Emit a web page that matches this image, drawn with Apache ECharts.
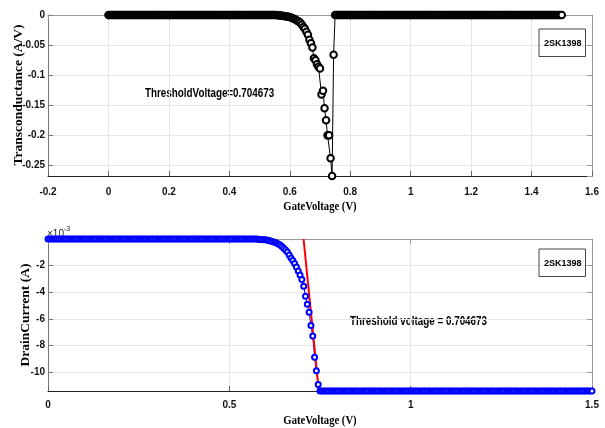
<!DOCTYPE html>
<html>
<head>
<meta charset="utf-8">
<script src="https://cdn.jsdelivr.net/npm/echarts@6/dist/echarts.min.js"></script>
<style>
  html, body { margin: 0; padding: 0; background: #fff; }
  #main { width: 605px; height: 428px; }
</style>
</head>
<body>
<div id="main"></div>
<script>
// gate voltage sweep (V), shared by both plots
const gateVoltage = [
    0, 0.005, 0.01, 0.015, 0.02, 0.025, 0.03, 0.035, 0.04, 0.045,
    0.05, 0.055, 0.06, 0.065, 0.07, 0.075, 0.08, 0.085, 0.09, 0.095,
    0.1, 0.105, 0.11, 0.115, 0.12, 0.125, 0.13, 0.135, 0.14, 0.145,
    0.15, 0.155, 0.16, 0.165, 0.17, 0.175, 0.18, 0.185, 0.19, 0.195,
    0.2, 0.205, 0.21, 0.215, 0.22, 0.225, 0.23, 0.235, 0.24, 0.245,
    0.25, 0.255, 0.26, 0.265, 0.27, 0.275, 0.28, 0.285, 0.29, 0.295,
    0.3, 0.305, 0.31, 0.315, 0.32, 0.325, 0.33, 0.335, 0.34, 0.345,
    0.35, 0.355, 0.36, 0.365, 0.37, 0.375, 0.38, 0.385, 0.39, 0.395,
    0.4, 0.405, 0.41, 0.415, 0.42, 0.425, 0.43, 0.435, 0.44, 0.445,
    0.45, 0.455, 0.46, 0.465, 0.47, 0.475, 0.48, 0.485, 0.49, 0.495,
    0.5, 0.505, 0.51, 0.515, 0.52, 0.525, 0.53, 0.535, 0.54, 0.545,
    0.55, 0.555, 0.56, 0.565, 0.57, 0.575, 0.58, 0.585, 0.59, 0.595,
    0.6, 0.605, 0.61, 0.615, 0.62, 0.625, 0.63, 0.635, 0.64, 0.645,
    0.65, 0.655, 0.66, 0.665, 0.67, 0.675, 0.68, 0.685, 0.69, 0.695,
    0.7, 0.705, 0.71, 0.715, 0.72, 0.725, 0.73, 0.735, 0.74, 0.745,
    0.75, 0.755, 0.76, 0.765, 0.77, 0.775, 0.78, 0.785, 0.79, 0.795,
    0.8, 0.805, 0.81, 0.815, 0.82, 0.825, 0.83, 0.835, 0.84, 0.845,
    0.85, 0.855, 0.86, 0.865, 0.87, 0.875, 0.88, 0.885, 0.89, 0.895,
    0.9, 0.905, 0.91, 0.915, 0.92, 0.925, 0.93, 0.935, 0.94, 0.945,
    0.95, 0.955, 0.96, 0.965, 0.97, 0.975, 0.98, 0.985, 0.99, 0.995,
    1, 1.005, 1.01, 1.015, 1.02, 1.025, 1.03, 1.035, 1.04, 1.045,
    1.05, 1.055, 1.06, 1.065, 1.07, 1.075, 1.08, 1.085, 1.09, 1.095,
    1.1, 1.105, 1.11, 1.115, 1.12, 1.125, 1.13, 1.135, 1.14, 1.145,
    1.15, 1.155, 1.16, 1.165, 1.17, 1.175, 1.18, 1.185, 1.19, 1.195,
    1.2, 1.205, 1.21, 1.215, 1.22, 1.225, 1.23, 1.235, 1.24, 1.245,
    1.25, 1.255, 1.26, 1.265, 1.27, 1.275, 1.28, 1.285, 1.29, 1.295,
    1.3, 1.305, 1.31, 1.315, 1.32, 1.325, 1.33, 1.335, 1.34, 1.345,
    1.35, 1.355, 1.36, 1.365, 1.37, 1.375, 1.38, 1.385, 1.39, 1.395,
    1.4, 1.405, 1.41, 1.415, 1.42, 1.425, 1.43, 1.435, 1.44, 1.445,
    1.45, 1.455, 1.46, 1.465, 1.47, 1.475, 1.48, 1.485, 1.49, 1.495,
    1.5
];

// top plot: transconductance (A/V)
const transconductance = [
    0, 0, 0, 0, 0, 0, 0, 0, 0, 0,
    0, 0, 0, 0, 0, 0, 0, 0, 0, 0,
    0, 0, 0, 0, 0, 0, 0, 0, 0, 0,
    0, 0, 0, 0, 0, 0, 0, 0, 0, 0,
    0, 0, 0, 0, 0, 0, 0, 0, 0, 0,
    0, 0, 0, 0, 0, 0, 0, 0, 0, 0,
    0, 0, 0, 0, 0, 0, 0, 0, 0, 0,
    0, 0, 0, 0, 0, 0, 0, 0, 0, 0,
    0, 0, 0, 0, 0, 0, 0, 0, 0, 0,
    0, 0, 0, 0, 0, 0, 0, 0, 0, 0,
    0, 0, 0, 0, 0, 0, 0, 0, 0, 0,
    0, 0, -0.0005, -0.0008, -0.001, -0.0013, -0.0016, -0.002, -0.0025, -0.003,
    -0.0035, -0.0045, -0.0055, -0.0065, -0.008, -0.0095, -0.011, -0.013, -0.016, -0.02,
    -0.023, -0.028, -0.033, -0.041, -0.047, -0.054, -0.072, -0.075, -0.082, -0.086,
    -0.089, -0.132, -0.126, -0.155, -0.175, -0.2, -0.2, -0.238, -0.2675, -0.066,
    0, 0, 0, 0, 0, 0, 0, 0, 0, 0,
    0, 0, 0, 0, 0, 0, 0, 0, 0, 0,
    0, 0, 0, 0, 0, 0, 0, 0, 0, 0,
    0, 0, 0, 0, 0, 0, 0, 0, 0, 0,
    0, 0, 0, 0, 0, 0, 0, 0, 0, 0,
    0, 0, 0, 0, 0, 0, 0, 0, 0, 0,
    0, 0, 0, 0, 0, 0, 0, 0, 0, 0,
    0, 0, 0, 0, 0, 0, 0, 0, 0, 0,
    0, 0, 0, 0, 0, 0, 0, 0, 0, 0,
    0, 0, 0, 0, 0, 0, 0, 0, 0, 0,
    0, 0, 0, 0, 0, 0, 0, 0, 0, 0,
    0, 0, 0, 0, 0, 0, 0, 0, 0, 0,
    0, 0, 0, 0, 0, 0, 0, 0, 0, 0,
    0, 0, 0, 0, 0, 0, 0, 0, 0, 0,
    0, 0, 0, 0, 0, 0, 0, 0, 0, 0,
    0
];

// bottom plot: drain current (x10^-3 A)
const drainCurrent = [
    0, 0, 0, 0, 0, 0, 0, 0, 0, 0,
    0, 0, 0, 0, 0, 0, 0, 0, 0, 0,
    0, 0, 0, 0, 0, 0, 0, 0, 0, 0,
    0, 0, 0, 0, 0, 0, 0, 0, 0, 0,
    0, 0, 0, 0, 0, 0, 0, 0, 0, 0,
    0, 0, 0, 0, 0, 0, 0, 0, 0, 0,
    0, 0, 0, 0, 0, 0, 0, 0, 0, 0,
    0, 0, 0, 0, 0, 0, 0, 0, 0, 0,
    0, 0, 0, 0, 0, 0, 0, 0, 0, 0,
    0, 0, 0, 0, 0, 0, 0, 0, 0, 0,
    0, 0, 0, 0, 0, 0, 0, 0, 0, 0,
    0, 0, 0, 0, 0, 0, -0.02, -0.03, -0.04, -0.05,
    -0.06, -0.09, -0.12, -0.16, -0.2, -0.25, -0.3, -0.37, -0.45, -0.56,
    -0.7, -0.82, -0.98, -1.2, -1.42, -1.62, -1.85, -2.1, -2.4, -2.7,
    -3.05, -3.55, -4.3, -4.9, -5.5, -6.5, -7.3, -8.9, -9.9, -10.95,
    -11.43, -11.43, -11.43, -11.43, -11.43, -11.43, -11.43, -11.43, -11.43, -11.43,
    -11.43, -11.43, -11.43, -11.43, -11.43, -11.43, -11.43, -11.43, -11.43, -11.43,
    -11.43, -11.43, -11.43, -11.43, -11.43, -11.43, -11.43, -11.43, -11.43, -11.43,
    -11.43, -11.43, -11.43, -11.43, -11.43, -11.43, -11.43, -11.43, -11.43, -11.43,
    -11.43, -11.43, -11.43, -11.43, -11.43, -11.43, -11.43, -11.43, -11.43, -11.43,
    -11.43, -11.43, -11.43, -11.43, -11.43, -11.43, -11.43, -11.43, -11.43, -11.43,
    -11.43, -11.43, -11.43, -11.43, -11.43, -11.43, -11.43, -11.43, -11.43, -11.43,
    -11.43, -11.43, -11.43, -11.43, -11.43, -11.43, -11.43, -11.43, -11.43, -11.43,
    -11.43, -11.43, -11.43, -11.43, -11.43, -11.43, -11.43, -11.43, -11.43, -11.43,
    -11.43, -11.43, -11.43, -11.43, -11.43, -11.43, -11.43, -11.43, -11.43, -11.43,
    -11.43, -11.43, -11.43, -11.43, -11.43, -11.43, -11.43, -11.43, -11.43, -11.43,
    -11.43, -11.43, -11.43, -11.43, -11.43, -11.43, -11.43, -11.43, -11.43, -11.43,
    -11.43, -11.43, -11.43, -11.43, -11.43, -11.43, -11.43, -11.43, -11.43, -11.43,
    -11.43, -11.43, -11.43, -11.43, -11.43, -11.43, -11.43, -11.43, -11.43, -11.43,
    -11.43, -11.43, -11.43, -11.43, -11.43, -11.43, -11.43, -11.43, -11.43, -11.43,
    -11.43
];

// tangent line for threshold voltage
const tangentX = [0.704673, 0.7465];
const tangentY = [0, -11.35];

const deviceName = '2SK1398';
const thresholdTop = 'ThresholdVoltage=0.704673';
const thresholdBottom = 'Threshold voltage = 0.704673';
const xTitle = 'GateVoltage (V)';
const yTitleTop = 'Transconductance (A/V)';
const yTitleBottom = 'DrainCurrent (A)';

const tickFont = '"Liberation Sans Narrow", "Liberation Sans", Arial, sans-serif';
const titleFont = '"Liberation Serif", "DejaVu Serif", serif';

function pairs(xs, ys) {
    return xs.map(function (x, i) { return [x, ys[i]]; });
}

function mainX(gridIndex, min, max, interval, margin) {
    return {
        type: 'value', gridIndex: gridIndex, position: 'bottom',
        min: min, max: max, interval: interval,
        axisLine: { onZero: false, lineStyle: { color: '#222', width: 1 } },
        axisTick: { inside: true, length: 5, lineStyle: { color: '#666' } },
        axisLabel: { margin: margin, fontFamily: tickFont, fontWeight: 'bold', fontSize: 10, color: '#111' },
        splitLine: { show: true, lineStyle: { color: '#e6e6e6' } }
    };
}

function boxX(gridIndex, min, max, interval) {
    return {
        type: 'value', gridIndex: gridIndex, position: 'top',
        min: min, max: max, interval: interval,
        axisLine: { onZero: false, lineStyle: { color: '#999' } },
        axisTick: { inside: true, length: 5, lineStyle: { color: '#999' } },
        axisLabel: { show: false },
        splitLine: { show: false }
    };
}

function mainY(gridIndex, min, max) {
    return {
        type: 'value', gridIndex: gridIndex, position: 'left',
        min: min, max: max, splitNumber: 6,
        axisLine: { onZero: false, lineStyle: { color: '#777' } },
        axisTick: { inside: true, length: 5, lineStyle: { color: '#777' } },
        axisLabel: { margin: 3, showMinLabel: false, showMaxLabel: gridIndex === 0,
            fontFamily: tickFont, fontWeight: 'bold', fontSize: 10, color: '#111' },
        splitLine: { show: true, lineStyle: { color: '#e6e6e6' } }
    };
}

function boxY(gridIndex, min, max) {
    return {
        type: 'value', gridIndex: gridIndex, position: 'right',
        min: min, max: max, splitNumber: 6,
        axisLine: { onZero: false, lineStyle: { color: '#999' } },
        axisTick: { inside: true, length: 5, lineStyle: { color: '#999' } },
        axisLabel: { show: false },
        splitLine: { show: false }
    };
}

function legendBox(top) {
    return {
        data: [deviceName], left: 539, top: top, icon: 'none',
        itemWidth: 0, itemGap: 0, selectedMode: false,
        borderColor: '#444', borderWidth: 1, padding: [8, 4, 8, 0],
        textStyle: { fontFamily: tickFont, fontWeight: 'bold', fontSize: 9, color: '#000' }
    };
}

// narrow text, squeezed horizontally like the source figure
function label(text, x, y, size, font, align) {
    return {
        type: 'text', x: x, y: y, scaleX: 0.82,
        style: { text: text, fontFamily: font, fontWeight: 'bold', fontSize: size, fill: '#000',
            align: align, verticalAlign: 'middle' }
    };
}

let myChart = echarts.init(document.getElementById('main'));

let option = {
    animation: false,
    backgroundColor: '#fff',
    grid: [
        { left: 48, right: 13, top: 15, height: 161 },
        { left: 48, right: 13, top: 239, height: 152 }
    ],
    xAxis: [
        mainX(0, -0.2, 1.6, 0.2, 11),
        boxX(0, -0.2, 1.6, 0.2),
        mainX(1, 0, 1.5, 0.5, 9),
        boxX(1, 0, 1.5, 0.5)
    ],
    yAxis: [
        mainY(0, -0.2675, 0),
        boxY(0, -0.2675, 0),
        mainY(1, -11.43, 0),
        boxY(1, -11.43, 0)
    ],
    legend: [legendBox(29), legendBox(249)],
    series: [
        {
            name: deviceName, type: 'line', xAxisIndex: 0, yAxisIndex: 0,
            data: pairs(gateVoltage, transconductance),
            symbol: 'emptyCircle', symbolSize: 6.5, showSymbol: true, showAllSymbol: true,
            lineStyle: { color: '#000', width: 1 },
            itemStyle: { color: '#000', borderColor: '#000', borderWidth: 1.3 }
        },
        {
            name: deviceName, type: 'line', xAxisIndex: 2, yAxisIndex: 2,
            data: pairs(gateVoltage, drainCurrent),
            symbol: 'emptyCircle', symbolSize: 5, showSymbol: true, showAllSymbol: true,
            lineStyle: { color: '#0000ff', width: 1 },
            itemStyle: { color: '#0000ff', borderColor: '#2a2aff', borderWidth: 1 }
        },
        {
            name: 'tangent', type: 'line', xAxisIndex: 2, yAxisIndex: 2,
            data: pairs(tangentX, tangentY),
            symbol: 'none', lineStyle: { color: '#ff0000', width: 2 }, z: 3
        }
    ],
    graphic: [
        label(thresholdTop, 145, 94, 12, tickFont, 'left'),
        label(thresholdBottom, 350, 322, 12, tickFont, 'left'),
        label(xTitle, 320, 207, 13, titleFont, 'center'),
        label(xTitle, 320, 421, 13, titleFont, 'center'),
        {
            type: 'text', x: 19, y: 95, rotation: Math.PI / 2,
            style: { text: yTitleTop, fontFamily: titleFont, fontWeight: 'bold', fontSize: 13.5, fill: '#000',
                align: 'center', verticalAlign: 'middle' }
        },
        {
            type: 'text', x: 26, y: 315, rotation: Math.PI / 2,
            style: { text: yTitleBottom, fontFamily: titleFont, fontWeight: 'bold', fontSize: 13.5, fill: '#000',
                align: 'center', verticalAlign: 'middle' }
        },
        {
            type: 'text', x: 47, y: 226,
            style: {
                text: '{a|\u00d710}{b|-3}',
                rich: {
                    a: { fontFamily: tickFont, fontSize: 10, fill: '#222', verticalAlign: 'bottom' },
                    b: { fontFamily: tickFont, fontSize: 7, fill: '#222', verticalAlign: 'top', padding: [0, 0, 6, 0] }
                }
            }
        }
    ]
};

myChart.setOption(option);
</script>
</body>
</html>
